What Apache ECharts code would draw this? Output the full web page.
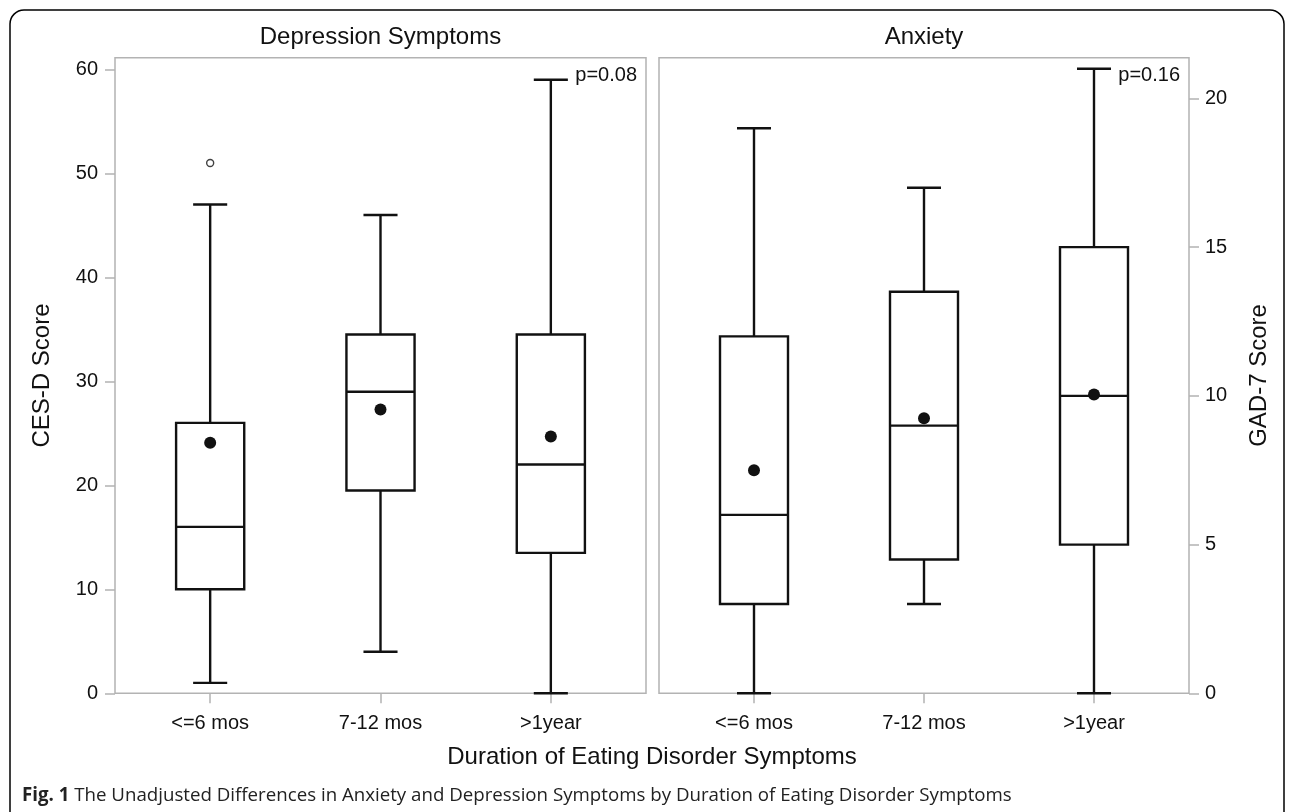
<!DOCTYPE html>
<html>
<head>
<meta charset="utf-8">
<script src="https://cdn.jsdelivr.net/npm/echarts@6/dist/echarts.min.js"></script>
<style>
html,body{margin:0;padding:0;background:#fff;}
#main{width:1292px;height:812px;}
</style>
</head>
<body>
<div id="main"></div>
<script>
// ---- data ----
const categories = ['<=6 mos', '7-12 mos', '>1year'];

// CES-D (Depression Symptoms)
const cesdLow    = [1, 4, 0];
const cesdQ1     = [10, 19.5, 13.5];
const cesdMedian = [16, 29, 22];
const cesdQ3     = [26, 34.5, 34.5];
const cesdHigh   = [47, 46, 59];
const cesdMean   = [24.1, 27.3, 24.7];
const cesdOutliers = [[0, 51]];
const cesdTickMax = 60, cesdTickStep = 10;
const cesdP = 'p=0.08';

// GAD-7 (Anxiety)
const gadLow    = [0, 3, 0];
const gadQ1     = [3, 4.5, 5];
const gadMedian = [6, 9, 10];
const gadQ3     = [12, 13.5, 15];
const gadHigh   = [19, 17, 21];
const gadMean   = [7.5, 9.25, 10.05];
const gadTickMax = 20, gadTickStep = 5;
const gadP = 'p=0.16';

// ---- chart ----
const FONT = '"Liberation Sans", Arial, sans-serif';
const FRAME = '#b3b3b3';
const INK = '#111';

function boxData(lo, q1, med, q3, hi, mean) {
  return categories.map((c, i) => [i, lo[i], q1[i], med[i], q3[i], hi[i], mean[i]]);
}

function renderBox(params, api) {
  const i = api.value(0);
  const band = api.size([1, 0])[0];
  const bw = band * 0.4;
  const cw = bw * 0.5;
  const pLo = api.coord([i, api.value(1)]);
  const pQ1 = api.coord([i, api.value(2)]);
  const pMed = api.coord([i, api.value(3)]);
  const pQ3 = api.coord([i, api.value(4)]);
  const pHi = api.coord([i, api.value(5)]);
  const pMean = api.coord([i, api.value(6)]);
  const x = pQ1[0];
  const ls = { stroke: INK, lineWidth: 2.4, fill: null };
  return {
    type: 'group',
    children: [
      { type: 'line', shape: { x1: x, y1: pLo[1], x2: x, y2: pQ1[1] }, style: ls },
      { type: 'line', shape: { x1: x, y1: pQ3[1], x2: x, y2: pHi[1] }, style: ls },
      { type: 'line', shape: { x1: x - cw / 2, y1: pLo[1], x2: x + cw / 2, y2: pLo[1] }, style: ls },
      { type: 'line', shape: { x1: x - cw / 2, y1: pHi[1], x2: x + cw / 2, y2: pHi[1] }, style: ls },
      { type: 'rect', shape: { x: x - bw / 2, y: pQ3[1], width: bw, height: pQ1[1] - pQ3[1] }, style: { stroke: INK, lineWidth: 2.4, fill: 'none' } },
      { type: 'line', shape: { x1: x - bw / 2, y1: pMed[1], x2: x + bw / 2, y2: pMed[1] }, style: ls },
      { type: 'circle', shape: { cx: pMean[0], cy: pMean[1], r: 6 }, style: { fill: INK } }
    ]
  };
}

// layout (pixels)
const frameTop = 57.7, frameBottom = 693.3;
const frameL = { left: 115, width: 531 };
const frameR = { left: 659, width: 530 };
const inset = 10;
const cesdMax = 61.12;   // value at frame top
const gadMax = 21.37;    // value at frame top
const H = frameBottom - frameTop;
const cesdTickTop = frameBottom - H * cesdTickMax / cesdMax;
const gadTickTop = frameBottom - H * gadTickMax / gadMax;

function catAxis(gridIndex) {
  return {
    gridIndex, type: 'category', data: categories, boundaryGap: true,
    axisLine: { show: false, onZero: false },
    axisTick: { show: true, alignWithLabel: true, length: 10, lineStyle: { color: FRAME, width: 1.5 } },
    axisLabel: { fontSize: 20, fontFamily: FONT, color: INK, margin: 20 },
    splitLine: { show: false }
  };
}
function hiddenX(gridIndex) { return { gridIndex, type: 'value', show: false, min: 0, max: 1 }; }
function hiddenY(gridIndex, max) { return { gridIndex, type: 'value', show: false, min: 0, max }; }
function tickY(gridIndex, max, step, position, margin) {
  return {
    gridIndex, type: 'value', min: 0, max, interval: step, position,
    axisLine: { show: false, onZero: false },
    axisTick: { show: true, length: 10, lineStyle: { color: FRAME, width: 1.5 } },
    axisLabel: { fontSize: 20, fontFamily: FONT, color: INK, margin },
    splitLine: { show: false }
  };
}

const option = {
  animation: false,
  backgroundColor: '#fff',
  grid: [
    { left: frameL.left, width: frameL.width, top: frameTop, height: H, show: true, borderColor: FRAME, borderWidth: 1.5, backgroundColor: 'transparent' },
    { left: frameL.left + inset, width: frameL.width - 2 * inset, top: frameTop, height: H },
    { left: frameR.left, width: frameR.width, top: frameTop, height: H, show: true, borderColor: FRAME, borderWidth: 1.5, backgroundColor: 'transparent' },
    { left: frameR.left + inset, width: frameR.width - 2 * inset, top: frameTop, height: H },
    { left: frameL.left, width: frameL.width, top: cesdTickTop, height: frameBottom - cesdTickTop },
    { left: frameR.left, width: frameR.width, top: gadTickTop, height: frameBottom - gadTickTop }
  ],
  xAxis: [hiddenX(0), catAxis(1), hiddenX(2), catAxis(3), hiddenX(4), hiddenX(5)],
  yAxis: [
    hiddenY(0, cesdMax),
    hiddenY(1, cesdMax),
    hiddenY(2, gadMax),
    hiddenY(3, gadMax),
    tickY(4, cesdTickMax, cesdTickStep, 'left', 17),
    tickY(5, gadTickMax, gadTickStep, 'right', 16)
  ],
  series: [
    {
      type: 'custom', xAxisIndex: 1, yAxisIndex: 1, z: 5,
      renderItem: renderBox,
      data: boxData(cesdLow, cesdQ1, cesdMedian, cesdQ3, cesdHigh, cesdMean)
    },
    {
      type: 'scatter', xAxisIndex: 1, yAxisIndex: 1, z: 5,
      symbol: 'circle', symbolSize: 7,
      itemStyle: { color: '#fff', borderColor: INK, borderWidth: 1.4 },
      data: cesdOutliers
    },
    {
      type: 'custom', xAxisIndex: 3, yAxisIndex: 3, z: 5,
      renderItem: renderBox,
      data: boxData(gadLow, gadQ1, gadMedian, gadQ3, gadHigh, gadMean)
    }
  ],
  graphic: [
    { type: 'rect', shape: { x: 10, y: 10, width: 1274, height: 820, r: 14 }, style: { stroke: '#000', lineWidth: 1.5, fill: 'none' }, z: -1 },
    { type: 'text', x: frameL.left + frameL.width / 2, y: 37, style: { text: 'Depression Symptoms', font: '24px ' + FONT, fill: INK, align: 'center', verticalAlign: 'middle' } },
    { type: 'text', x: frameR.left + frameR.width / 2, y: 37, style: { text: 'Anxiety', font: '24px ' + FONT, fill: INK, align: 'center', verticalAlign: 'middle' } },
    { type: 'text', x: frameL.left + frameL.width - 9, y: 75, style: { text: cesdP, font: '20px ' + FONT, fill: INK, align: 'right', verticalAlign: 'middle' } },
    { type: 'text', x: frameR.left + frameR.width - 9, y: 75, style: { text: gadP, font: '20px ' + FONT, fill: INK, align: 'right', verticalAlign: 'middle' } },
    { type: 'text', x: 42, y: (frameTop + frameBottom) / 2, rotation: Math.PI / 2, style: { text: 'CES-D Score', font: '24px ' + FONT, fill: INK, align: 'center', verticalAlign: 'middle' } },
    { type: 'text', x: 1259, y: (frameTop + frameBottom) / 2, rotation: Math.PI / 2, style: { text: 'GAD-7 Score', font: '24px ' + FONT, fill: INK, align: 'center', verticalAlign: 'middle' } },
    { type: 'text', x: (frameL.left + frameR.left + frameR.width) / 2, y: 757, style: { text: 'Duration of Eating Disorder Symptoms', font: '24px ' + FONT, fill: INK, align: 'center', verticalAlign: 'middle' } },
    { type: 'text', x: 22, y: 796, style: {
        text: '{b|Fig. 1} The Unadjusted Differences in Anxiety and Depression Symptoms by Duration of Eating Disorder Symptoms',
        font: '18.7px "Open Sans", sans-serif', fill: '#222', align: 'left', verticalAlign: 'middle',
        rich: { b: { fontWeight: 'bold', fontSize: 18.7, fontFamily: '"Open Sans", sans-serif', fill: '#222' } } } }
  ]
};

const chart = echarts.init(document.getElementById('main'), null, { renderer: 'canvas' });
chart.setOption(option);
</script>
</body>
</html>
